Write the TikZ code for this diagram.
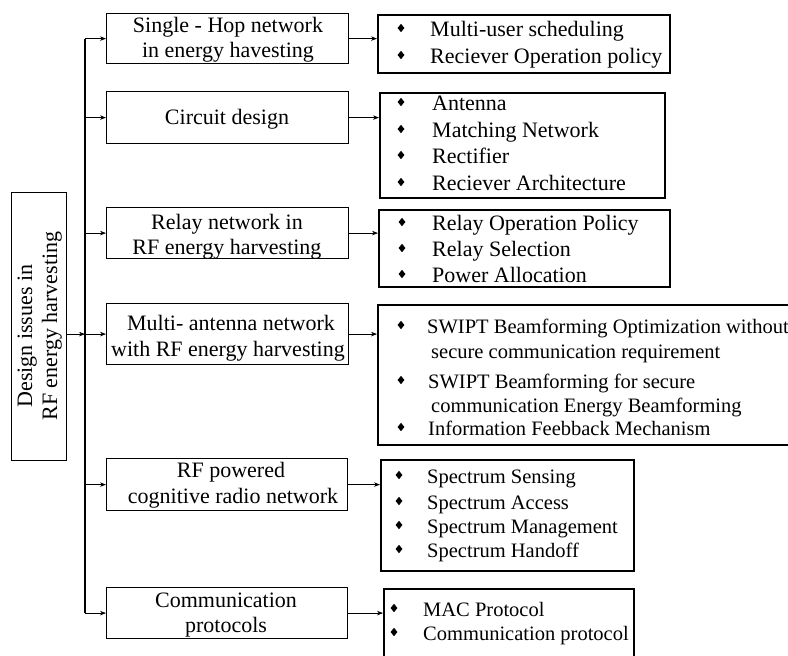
\documentclass[tikz,border=0pt]{standalone}
\usepackage{fontspec}
\setmainfont{Liberation Serif}
\usetikzlibrary{arrows.meta,shapes.geometric}

\def\isz{22}
\tikzset{
  txt/.style={inner sep=0pt, font=\fontsize{22}{26}\selectfont},
  itxt/.style={inner sep=0pt, font=\fontsize{\isz}{24}\selectfont},
  midbox/.style={draw, line width=1.2pt, inner sep=0pt, anchor=north west},
  listbox/.style={draw, line width=1.6pt, inner sep=0pt, anchor=north west},
  bul/.style={diamond, fill=black, inner sep=0pt, minimum width=7pt, minimum height=8.5pt},
  conn/.style={line width=0.7pt, -{Stealth[length=6pt,width=4.5pt]}},
  busline/.style={line width=1.6pt}
}

% centred text line: name, x, baseline y, text
\newcommand\ctline[4]{\node[txt, anchor=base] (#1) at (#2,#3) {#4};}
% bulleted item: name, bullet x, baseline y, text x, text
\newcommand\bitem[5]{%
  \node[bul] (#1b) at (#2,#3-8) {};
  \node[itxt, anchor=base west] (#1) at (#4,#3) {#5};}
% continuation line of an item: name, text x, baseline y, text
\newcommand\cont[4]{\node[itxt, anchor=base west] (#1) at (#2,#3) {#4};}

\begin{document}
\begin{tikzpicture}[x=1pt, y=-1pt]
\clip (0,0) rectangle (788,656);
\fill[white] (0,0) rectangle (788,656);

% root box
\node[midbox, minimum width=55pt, minimum height=268pt] (root) at (11,192) {};
\node[txt, rotate=90, anchor=base] (rootA) at (32,336) {Design issues in};
\node[txt, rotate=90, anchor=base] (rootB) at (57,326) {RF energy harvesting};

% topic boxes
\node[midbox, minimum width=242pt, minimum height=50pt] (m1) at (106,13) {};
\node[midbox, minimum width=242pt, minimum height=52pt] (m2) at (106,91) {};
\node[midbox, minimum width=242pt, minimum height=51pt] (m3) at (106,207) {};
\node[midbox, minimum width=242pt, minimum height=61pt] (m4) at (106,303) {};
\node[midbox, minimum width=241pt, minimum height=52pt] (m5) at (106,458) {};
\node[midbox, minimum width=241pt, minimum height=51pt] (m6) at (106,587) {};

\ctline{m1a}{228}{32}{Single - Hop network}
\ctline{m1b}{228}{57}{in energy havesting}
\ctline{m2a}{227}{124}{Circuit design}
\ctline{m3a}{227}{229}{Relay network in}
\ctline{m3b}{227}{254}{RF energy harvesting}
\ctline{m4a}{231}{330}{Multi- antenna network}
\ctline{m4b}{228}{356}{with RF energy harvesting}
\ctline{m5a}{231}{477}{RF powered}
\ctline{m5b}{233}{503}{cognitive radio network}
\ctline{m6a}{226}{607}{Communication}
\ctline{m6b}{226}{632}{protocols}

% detail boxes
\node[listbox, minimum width=292pt, minimum height=58pt] (r1) at (377,14) {};
\node[listbox, minimum width=285pt, minimum height=105pt] (r2) at (379,92) {};
\node[listbox, minimum width=291pt, minimum height=77pt] (r3) at (378,209) {};
\node[listbox, minimum width=430pt, minimum height=140pt] (r4) at (377,304) {};
\node[listbox, minimum width=253pt, minimum height=111pt] (r5) at (380,459) {};
\node[listbox, minimum width=250pt, minimum height=90pt] (r6) at (383,588) {};

\bitem{r1a}{401}{36}{430}{Multi-user scheduling}
\bitem{r1b}{401}{63}{430}{Reciever Operation policy}

\bitem{r2a}{401}{110}{432}{Antenna}
\bitem{r2b}{401}{137}{432}{Matching Network}
\bitem{r2c}{401}{163}{432}{Rectifier}
\bitem{r2d}{401}{190}{432}{Reciever Architecture}

\bitem{r3a}{402}{230}{432}{Relay Operation Policy}
\bitem{r3b}{402}{256}{432}{Relay Selection}
\bitem{r3c}{402}{282}{432}{Power Allocation}

% the lower three lists are set slightly smaller
\def\isz{20.5}
\bitem{r4a}{401}{333}{427}{SWIPT Beamforming Optimization without}
\cont{r4a2}{431}{358}{secure communication requirement}
\bitem{r4b}{401}{388}{428}{SWIPT Beamforming for secure}
\cont{r4b2}{431}{412}{communication Energy Beamforming}
\bitem{r4c}{401}{435}{428}{Information Feebback Mechanism}

\bitem{r5a}{399}{483}{427}{Spectrum Sensing}
\bitem{r5b}{399}{509}{427}{Spectrum Access}
\bitem{r5c}{399}{533}{427}{Spectrum Management}
\bitem{r5d}{399}{557}{427}{Spectrum Handoff}

\bitem{r6a}{394}{616}{423}{MAC Protocol}
\bitem{r6b}{394}{640}{423}{Communication protocol}

% distribution bus
\coordinate (bus) at (85,0);
\draw[busline] (bus |- m1.west) -- (bus |- m6.west);
\draw[conn] (root.east |- m4.west) -- (bus |- m4.west);
\foreach \m in {m1,m2,m3,m4,m5,m6}
  \draw[conn] (bus |- \m.west) -- (\m.west);

% topic to detail connectors
\draw[conn] (m1.east) -- (m1.east -| r1.west);
\draw[conn] (m2.east) -- (m2.east -| r2.west);
\draw[conn] (m3.east) -- (m3.east -| r3.west);
\draw[conn] (m4.east) -- (m4.east -| r4.west);
\draw[conn] (m5.east) -- (m5.east -| r5.west);
\draw[conn] (m6.east) -- (m6.east -| r6.west);
\end{tikzpicture}
\end{document}
